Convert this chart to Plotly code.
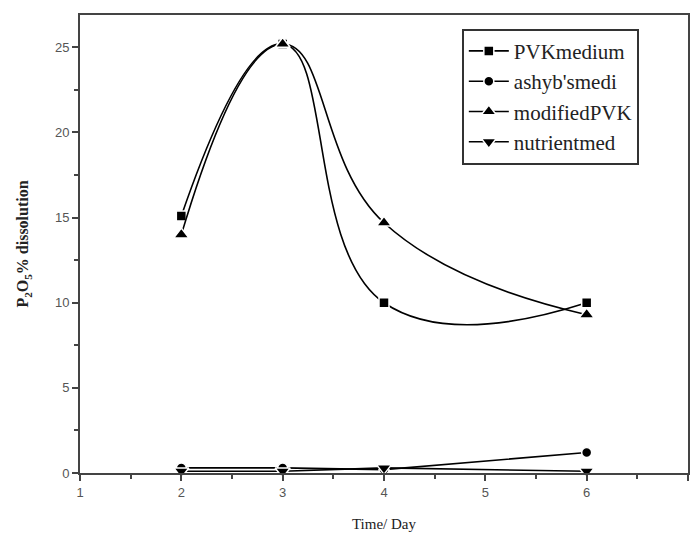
import plotly.graph_objects as go

days = [2, 3, 4, 6]
pvk_medium = [15.1, 25.2, 10.0, 10.0]
ashyb_medi = [0.3, 0.3, 0.2, 1.2]
modified_pvk = [14.0, 25.2, 14.7, 9.3]
nutrient_med = [0.1, 0.1, 0.3, 0.1]

names = ["PVKmedium", "ashyb'smedi", "modifiedPVK", "nutrientmed"]
series = [pvk_medium, ashyb_medi, modified_pvk, nutrient_med]
symbols = ["square", "circle", "triangle-up", "triangle-down"]
sizes = [10, 10, 13, 13]
shapes = ["spline", "linear", "spline", "linear"]

fig = go.Figure()
for n, s, sym, sz, sh in zip(names, series, symbols, sizes, shapes):
    fig.add_trace(go.Scatter(
        x=days, y=s, name=n, mode="lines+markers", cliponaxis=False,
        line=dict(color="black", width=1.6, shape=sh, smoothing=1.3),
        marker=dict(symbol=sym, size=sz, color="black",
                    line=dict(color="white", width=1.5)),
    ))

axis_common = dict(
    showline=True, linecolor="#444", linewidth=2, mirror=True,
    ticks="outside", ticklen=6, tickwidth=1.5, tickcolor="#444",
    showgrid=False, zeroline=False,
    tickfont=dict(family="Liberation Sans, Arial", size=13, color="#555"),
)

fig.update_xaxes(
    range=[1, 7], dtick=1, tick0=1,
    minor=dict(ticks="outside", ticklen=4, dtick=0.5, tickcolor="#444"),
    title=dict(text="Time/ Day", font=dict(family="Liberation Serif, Times New Roman", size=15, color="#222"), standoff=20),
    **axis_common,
)
fig.update_yaxes(
    range=[0, 26.9], dtick=5, tick0=0,
    minor=dict(ticks="outside", ticklen=4, dtick=2.5, tickcolor="#444"),
    title=dict(text="<b>P<sub>2</sub>O<sub>5</sub>% dissolution</b>",
               font=dict(family="Liberation Serif, Times New Roman", size=16, color="#222"), standoff=22),
    **axis_common,
)

fig.update_layout(
    width=690, height=539,
    margin=dict(l=80, r=0, t=15, b=66),
    plot_bgcolor="white", paper_bgcolor="white",
    showlegend=True,
    legend=dict(
        x=0.628, y=0.97, xanchor="left", yanchor="top",
        bordercolor="#333", borderwidth=2, bgcolor="white",
        font=dict(family="Liberation Serif, Times New Roman", size=21, color="#222"),
        tracegroupgap=0, itemwidth=40,
    ),
)

fig.write_html("out.html")
